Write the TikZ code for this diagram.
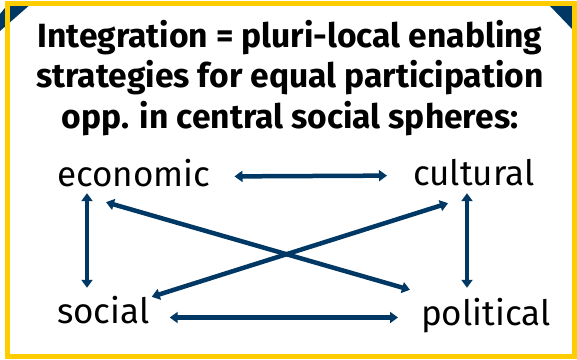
\documentclass[tikz,border=0pt]{standalone}
\usepackage{fontspec}
\setmainfont{Fira Sans}
\usetikzlibrary{arrows.meta,calc}
\definecolor{navy}{RGB}{0,56,101}
\definecolor{gold}{RGB}{255,204,0}
\tikzset{
    sphere-label/.style = {anchor=base west, inner sep=0pt, text height=26pt, text depth=7pt, font=\fontsize{35}{40}\selectfont},
    sphere-link/.style = {draw=navy, line width=4.5pt, {Triangle[length=8pt,width=11pt]}-{Triangle[length=8pt,width=11pt]}},
    title-text/.style = {anchor=north, align=center, inner sep=0pt, font=\fontsize{33.6}{40.5}\selectfont\bfseries},
}

\begin{document}
\begin{tikzpicture}[x=1pt,y=-1pt]
\useasboundingbox (0,0) rectangle (577,359);
% corner ribbons and frame
\fill[navy] (0,14) -- (9,3) -- (32,3) -- (0,31) -- cycle;
\fill[navy] (549,5) -- (573,5) -- (573,30) -- cycle;
\draw[gold, line width=5pt] (7,3.5) rectangle (574,356);

\node[title-text] (head) at (290,20) {Integration = pluri-local enabling\\strategies for equal participation\\opp. in central social spheres:};

\node[sphere-label] (econ) at (57,186) {economic};
\node[sphere-label] (cult) at (413,185) {cultural};
\node[sphere-label] (soc) at (57,323) {social};
\node[sphere-label] (pol) at (421,325) {political};

\draw[sphere-link, shorten <=24pt, shorten >=26pt] (econ.east) -- (cult.west);
\draw[sphere-link, shorten <=20pt, shorten >=23pt] ([yshift=-4pt]soc.east) -- ([yshift=-2pt]pol.west);
\draw[sphere-link, shorten >=9pt] ([xshift=30pt]econ.south west) -- ([xshift=30pt]soc.north west);
\draw[sphere-link, shorten <=1pt, shorten >=11pt] ([xshift=54pt]cult.south west) -- ([xshift=46pt]pol.north west);
\draw[sphere-link] ([xshift=49pt,yshift=-9pt]econ.south west) -- ([xshift=-11pt,yshift=9pt]pol.north west);
\draw[sphere-link] ([xshift=2pt]soc.north east) -- ([xshift=35pt,yshift=-11pt]cult.south west);
\end{tikzpicture}
\end{document}
